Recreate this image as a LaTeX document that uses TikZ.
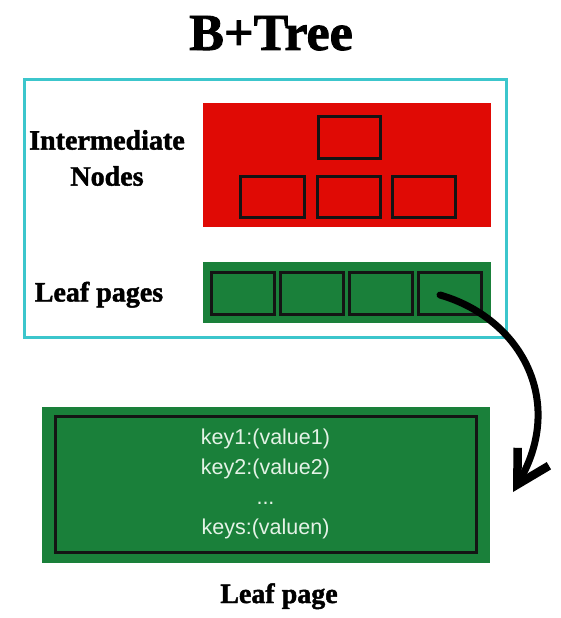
\documentclass[tikz,border=0pt]{standalone}
\usepackage{fontspec}
\setmainfont{Liberation Serif}[BoldFeatures={FakeBold=1.6}]
\newfontfamily\keyfont{Liberation Sans}
\usetikzlibrary{arrows.meta}
\definecolor{frameCyan}{RGB}{60,198,204}
\definecolor{panelRed}{RGB}{224,10,5}
\definecolor{panelGreen}{RGB}{26,128,58}
\definecolor{keyText}{RGB}{228,242,230}
\tikzset{
  panel/.style={anchor=north west, inner sep=0pt, outer sep=0pt, draw=none},
  cellbox/.style={anchor=north west, inner sep=0pt, outer sep=0pt, draw=black!92, line width=3pt},
  heading/.style={font=\bfseries\fontsize{28}{36}\selectfont, inner sep=0pt, align=center},
  flowarrow/.style={line width=7pt, line cap=round, -{Straight Barb[length=32pt,width=36pt,line width=8.5pt]}}
}
\begin{document}
\begin{tikzpicture}[x=1pt,y=-1pt]
\useasboundingbox (0,0) rectangle (561,618);
% title
\node[font=\bfseries\fontsize{52}{60}\selectfont, inner sep=0pt, anchor=base] (title) at (271,50) {B+Tree};
% frame
\node[panel, draw=frameCyan, line width=3pt, minimum width=482pt, minimum height=258pt] (frame) at (24,79) {};
% intermediate panel
\node[panel, fill=panelRed, minimum width=288pt, minimum height=124pt] (inter) at (203,103) {};
\node[cellbox, minimum width=62pt, minimum height=42pt] (root) at (318,116) {};
\node[cellbox, minimum width=64pt, minimum height=41pt] (i1) at (240,176) {};
\node[cellbox, minimum width=63pt, minimum height=41pt] (i2) at (317,176) {};
\node[cellbox, minimum width=63pt, minimum height=41pt] (i3) at (392,176) {};
\node[heading] (interlabel) at (107,158) {Intermediate\\Nodes};
% leaf strip
\node[panel, fill=panelGreen, minimum width=288pt, minimum height=61pt] (leafstrip) at (203,262) {};
\node[cellbox, minimum width=63pt, minimum height=42pt] (l1) at (211,272) {};
\node[cellbox, minimum width=63pt, minimum height=42pt] (l2) at (280,272) {};
\node[cellbox, minimum width=63pt, minimum height=42pt] (l3) at (349.5,272) {};
\node[cellbox, minimum width=63pt, minimum height=42pt] (l4) at (418,272) {};
\node[heading, anchor=base] (leaflabel) at (99,301.5) {Leaf pages};
% big leaf page
\node[panel, fill=panelGreen, minimum width=448pt, minimum height=156pt] (page) at (42,407) {};
\node[cellbox, minimum width=421pt, minimum height=136pt] (pageinner) at (55,416) {};
\node[font=\keyfont\fontsize{21.5}{30}\selectfont, text=keyText, align=center, inner sep=0pt] (keys) at (pageinner.center) {key1:(value1)\\key2:(value2)\\...\\keys:(valuen)};
\node[heading, anchor=base] (pagelabel) at (279,603) {Leaf page};
% arrow
\coordinate (arrstart) at (440,295);
\coordinate (arrend) at (513,492);
\draw[flowarrow] (arrstart) .. controls (520,318) and (566,400) .. (arrend);
\end{tikzpicture}
\end{document}
